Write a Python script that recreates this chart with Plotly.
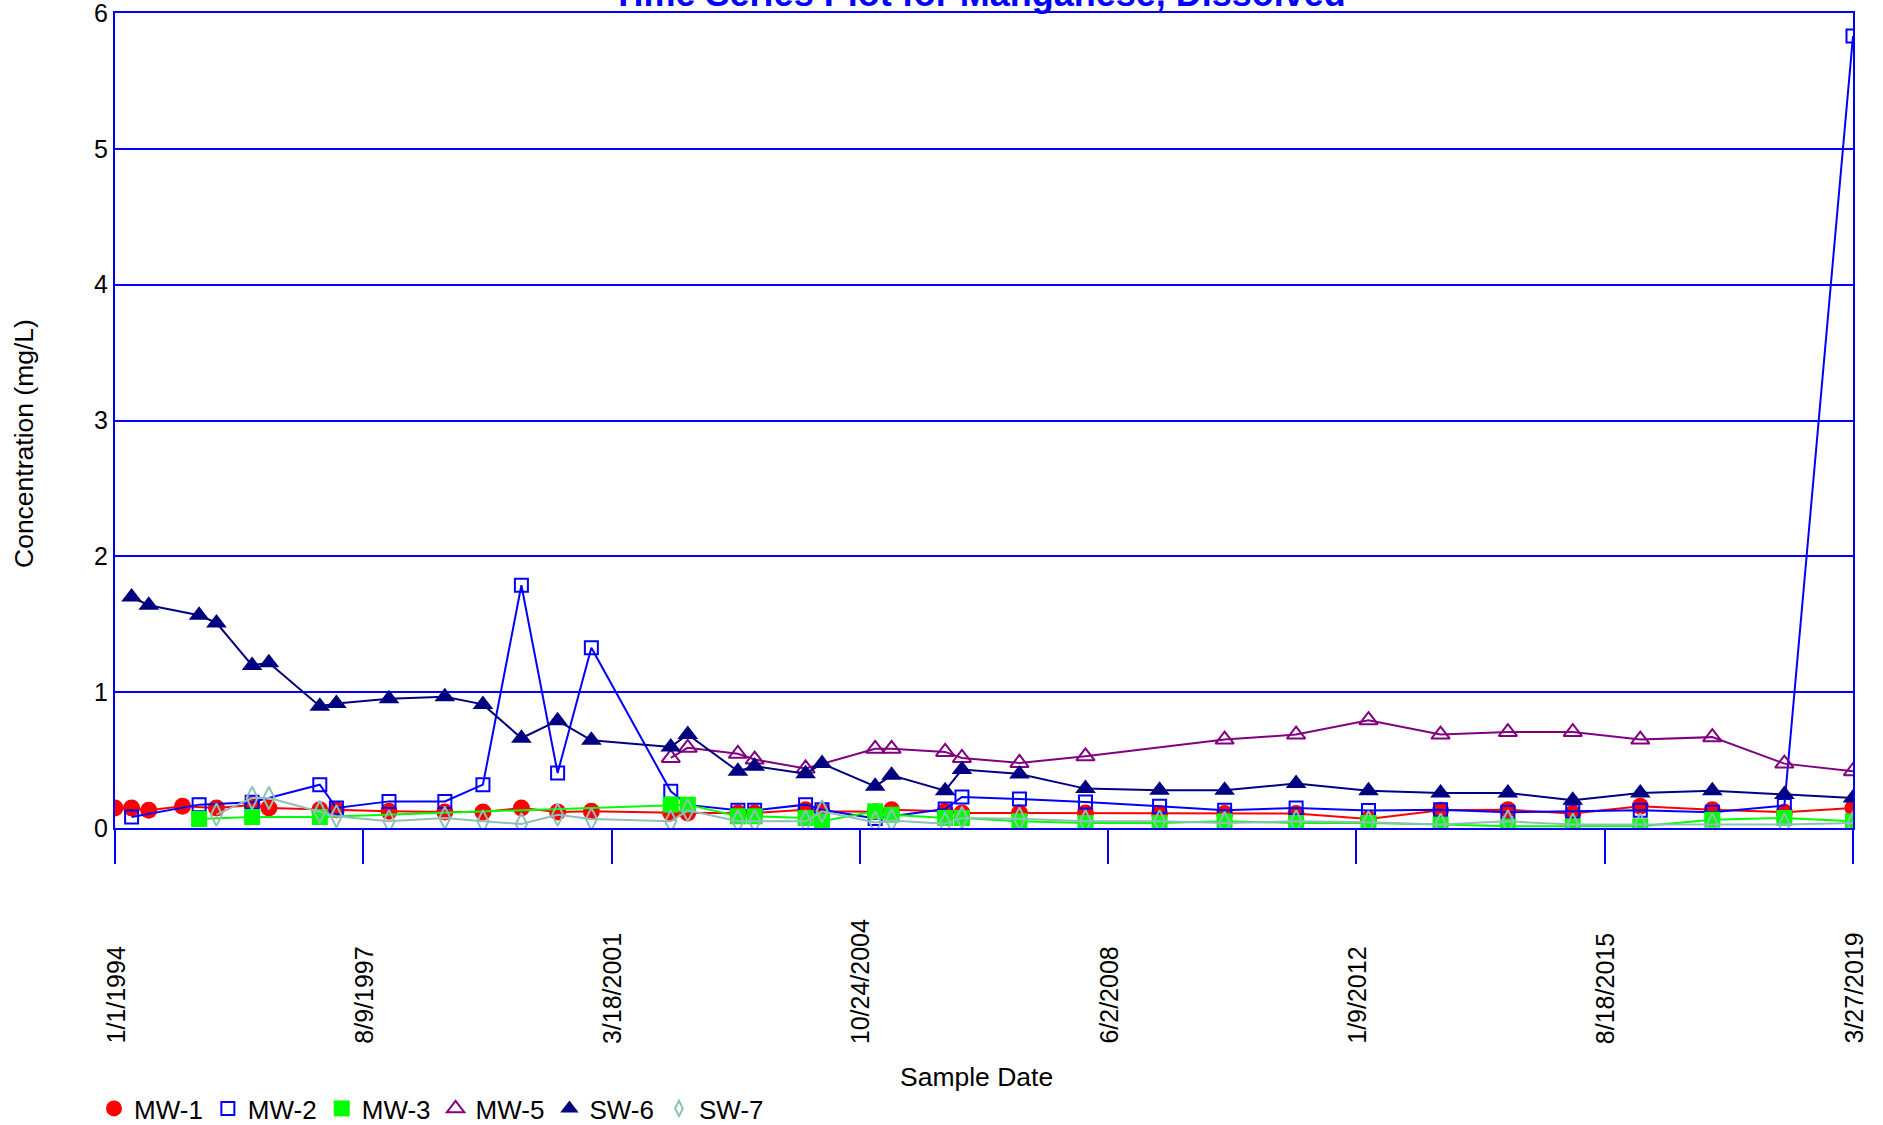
import plotly.graph_objects as go

# ---------------- data ----------------
tick_dates = ["1994-01-01", "1997-08-09", "2001-03-18", "2004-10-24",
              "2008-06-02", "2012-01-09", "2015-08-18", "2019-03-27"]
tick_labels = ["1/1/1994", "8/9/1997", "3/18/2001", "10/24/2004",
               "6/2/2008", "1/9/2012", "8/18/2015", "3/27/2019"]
y_ticks = [0, 1, 2, 3, 4, 5, 6]

mw1_dates = ["1994-01-01", "1994-03-30", "1994-06-29", "1994-12-25", "1995-06-23", "1995-12-29",
             "1996-03-27", "1996-12-22", "1997-03-20", "1997-12-24", "1998-10-16", "1999-05-06",
             "1999-11-26", "2000-06-05", "2000-12-01", "2002-01-26", "2002-04-26", "2003-01-17",
             "2003-04-16", "2004-01-11", "2004-04-07", "2005-01-14", "2005-04-11", "2006-01-20",
             "2006-04-19", "2007-02-18", "2008-02-03", "2009-03-02", "2010-02-10", "2011-02-24",
             "2012-03-14", "2013-03-31", "2014-03-23", "2015-03-02", "2016-02-23", "2017-03-11",
             "2018-03-28", "2019-03-27"]
mw1_vals = [0.147, 0.147, 0.13, 0.16, 0.147, 0.17,
            0.147, 0.135, 0.135, 0.123, 0.118, 0.118,
            0.147, 0.118, 0.123, 0.11, 0.11, 0.11,
            0.11, 0.135, 0.123, 0.12, 0.135, 0.123,
            0.11, 0.11, 0.11, 0.106, 0.106, 0.106,
            0.066, 0.13, 0.135, 0.106, 0.16, 0.135,
            0.116, 0.147]

mw2_dates = ["1994-03-30", "1995-03-23", "1995-12-29", "1996-12-22", "1997-03-20", "1997-12-24",
             "1998-10-16", "1999-05-06", "1999-11-26", "2000-06-05", "2000-12-01", "2002-01-26",
             "2002-04-26", "2003-01-17", "2003-04-16", "2004-01-11", "2004-04-07", "2005-01-14",
             "2006-01-20", "2006-04-19", "2007-02-18", "2008-02-03", "2009-03-02", "2010-02-10",
             "2011-02-24", "2012-03-14", "2013-03-31", "2014-03-23", "2015-03-02", "2016-02-23",
             "2017-03-11", "2018-03-28", "2019-03-27"]
mw2_vals = [0.081, 0.172, 0.19, 0.319, 0.147, 0.196,
            0.196, 0.319, 1.787, 0.405, 1.327, 0.27,
            0.17, 0.13, 0.13, 0.172, 0.135, 0.07,
            0.14, 0.229, 0.214, 0.192, 0.16, 0.13,
            0.147, 0.128, 0.135, 0.116, 0.123, 0.13,
            0.116, 0.165, 5.83]

mw3_dates = ["1995-03-23", "1995-12-29", "1996-12-22", "2002-01-26", "2002-04-26", "2003-01-17",
             "2003-04-16", "2004-01-11", "2004-04-07", "2005-01-14", "2005-04-11", "2006-01-20",
             "2006-04-19", "2007-02-18", "2008-02-03", "2009-03-02", "2010-02-10", "2011-02-24",
             "2012-03-14", "2013-03-31", "2014-03-23", "2015-03-02", "2016-02-23", "2017-03-11",
             "2018-03-28", "2019-03-27"]
mw3_vals = [0.066, 0.081, 0.081, 0.172, 0.172, 0.086,
            0.086, 0.074, 0.049, 0.123, 0.098, 0.074,
            0.074, 0.05, 0.037, 0.037, 0.049, 0.037,
            0.037, 0.025, 0.012, 0.012, 0.012, 0.061,
            0.074, 0.049]

mw5_dates = ["2002-01-26", "2002-04-26", "2003-01-17", "2003-04-16", "2004-01-11", "2005-01-14",
             "2005-04-11", "2006-01-20", "2006-04-19", "2007-02-18", "2008-02-03", "2010-02-10",
             "2011-02-24", "2012-03-14", "2013-03-31", "2014-03-23", "2015-03-02", "2016-02-23",
             "2017-03-11", "2018-03-28", "2019-03-27"]
mw5_vals = [0.516, 0.59, 0.546, 0.504, 0.438, 0.583,
            0.583, 0.56, 0.516, 0.479, 0.528, 0.651,
            0.688, 0.794, 0.688, 0.706, 0.706, 0.651,
            0.669, 0.474, 0.418]

sw6_dates = ["1994-03-30", "1994-06-29", "1995-03-23", "1995-06-23", "1995-12-29", "1996-03-27",
             "1996-12-22", "1997-03-20", "1997-12-24", "1998-10-16", "1999-05-06", "1999-11-26",
             "2000-06-05", "2000-12-01", "2002-01-26", "2002-04-26", "2003-01-17", "2003-04-16",
             "2004-01-11", "2004-04-07", "2005-01-14", "2005-04-11", "2006-01-20", "2006-04-19",
             "2007-02-18", "2008-02-03", "2009-03-02", "2010-02-10", "2011-02-24", "2012-03-14",
             "2013-03-31", "2014-03-23", "2015-03-02", "2016-02-23", "2017-03-11", "2018-03-28",
             "2019-03-27"]
sw6_vals = [1.70, 1.64, 1.566, 1.51, 1.197, 1.217,
            0.897, 0.917, 0.951, 0.966, 0.91, 0.661,
            0.79, 0.646, 0.597, 0.688, 0.418, 0.455,
            0.40, 0.474, 0.307, 0.388, 0.275, 0.43,
            0.398, 0.29, 0.278, 0.278, 0.327, 0.275,
            0.258, 0.258, 0.204, 0.258, 0.275, 0.246,
            0.221]

sw7_dates = ["1995-06-23", "1995-12-29", "1996-03-27", "1996-12-22", "1997-03-20", "1997-12-24",
             "1998-10-16", "1999-05-06", "1999-11-26", "2000-06-05", "2000-12-01", "2002-01-26",
             "2002-04-26", "2003-01-17", "2003-04-16", "2004-01-11", "2004-04-07", "2005-01-14",
             "2005-04-11", "2006-01-20", "2006-04-19", "2007-02-18", "2008-02-03", "2009-03-02",
             "2010-02-10", "2011-02-24", "2012-03-14", "2013-03-31", "2014-03-23", "2015-03-02",
             "2016-02-23", "2017-03-11", "2018-03-28", "2019-03-27"]
sw7_vals = [0.098, 0.221, 0.221, 0.118, 0.086, 0.049,
            0.074, 0.049, 0.029, 0.098, 0.066, 0.049,
            0.13, 0.049, 0.049, 0.049, 0.123, 0.04,
            0.056, 0.032, 0.074, 0.068, 0.049, 0.049,
            0.037, 0.049, 0.042, 0.025, 0.049, 0.025,
            0.025, 0.025, 0.025, 0.037]

# name, dates, values, colour, symbol, marker size, marker outline width, legend size
series = [
    ("MW-1", mw1_dates, mw1_vals, "#ff0000", "circle", 17, 0, 16),
    ("MW-2", mw2_dates, mw2_vals, "#0000ff", "square-open", 13, 2, 13),
    ("MW-3", mw3_dates, mw3_vals, "#00ff00", "square", 16, 0, 16),
    ("MW-5", mw5_dates, mw5_vals, "#800080", "triangle-up-open", 16, 2, 15),
    ("SW-6", sw6_dates, sw6_vals, "#000080", "triangle-up", 18, 0, 17),
    ("SW-7", sw7_dates, sw7_vals, "#8fbfb8", "diamond-tall-open", 16, 2, 11),
]

FONT = "Liberation Sans, Arial, Helvetica, sans-serif"
FS = 25
W, H = 1883, 1125
ML, MR, MT, MB = 115, 30, 13, 297
PW, PH = W - ML - MR, H - MT - MB


def px_to_paper_x(px):
    return (px - ML) / PW


def px_to_paper_y(py):
    return (H - MB - py) / PH


fig = go.Figure()
for name, xs, ys, col, sym, sz, lw, lsz in series:
    fig.add_trace(go.Scatter(
        x=xs, y=ys, mode="lines+markers", name=name, showlegend=False,
        line=dict(color=col, width=2),
        marker=dict(symbol=sym, size=sz, color=col, line=dict(color=col, width=lw)),
    ))
# legend entries (markers only, as in the original legend)
for name, xs, ys, col, sym, sz, lw, lsz in series:
    fig.add_trace(go.Scatter(
        x=[None], y=[None], mode="markers", name=name, showlegend=True,
        marker=dict(symbol=sym, size=lsz, color=col, line=dict(color=col, width=lw)),
    ))

# rotated date labels, bottom-aligned like the original
for d, lab in zip(tick_dates, tick_labels):
    fig.add_annotation(x=d, xref="x", y=px_to_paper_y(1046), yref="paper", text=lab,
                       textangle=-90, showarrow=False, xanchor="center", yanchor="bottom",
                       font=dict(family=FONT, size=FS, color="black"))

fig.add_annotation(text="Sample Date", xref="paper", yref="paper",
                   x=px_to_paper_x(976), y=px_to_paper_y(1077),
                   showarrow=False, xanchor="center", yanchor="middle",
                   font=dict(family=FONT, size=26.5, color="black"))
fig.add_annotation(text="Concentration (mg/L)", xref="paper", yref="paper",
                   x=px_to_paper_x(24), y=px_to_paper_y(444), textangle=-90, showarrow=False,
                   xanchor="center", yanchor="middle",
                   font=dict(family=FONT, size=26.5, color="black"))

fig.update_layout(
    width=W, height=H,
    margin=dict(l=ML, r=MR, t=MT, b=MB, autoexpand=False),
    paper_bgcolor="white", plot_bgcolor="white",
    font=dict(family=FONT, size=FS, color="black"),
    title=dict(text="<b>Time Series Plot for Manganese, Dissolved</b>",
               font=dict(family=FONT, size=36, color="#0000ff"),
               xref="container", x=979 / W, xanchor="center",
               yref="container", y=1 - 6 / H, yanchor="bottom"),
    showlegend=True,
    legend=dict(orientation="h", xref="container", yref="container",
                x=94 / W, y=1 - 1085 / H, xanchor="left", yanchor="top",
                font=dict(family=FONT, size=26, color="black"),
                bgcolor="rgba(0,0,0,0)", itemwidth=30, tracegroupgap=0),
    xaxis=dict(type="date", range=[tick_dates[0], tick_dates[-1]],
               tickvals=tick_dates, ticktext=tick_labels, showticklabels=False,
               ticks="outside", ticklen=34, tickwidth=2, tickcolor="#0000ff",
               showgrid=False, zeroline=False,
               showline=True, linecolor="#0000ff", linewidth=2, mirror=True),
    yaxis=dict(range=[y_ticks[0], y_ticks[-1]], tickvals=y_ticks,
               ticktext=[str(v) for v in y_ticks],
               showgrid=True, gridcolor="#0000ff",
               gridwidth=2, zeroline=False, ticks="", ticklabeloverflow="allow",
               showline=True, linecolor="#0000ff", linewidth=2, mirror=True,
               tickfont=dict(family=FONT, size=FS, color="black")),
)

fig.write_html("out.html",
               config={"displayModeBar": False},
               post_script="document.body.style.margin='0';"
                           "document.body.style.overflow='hidden';")
